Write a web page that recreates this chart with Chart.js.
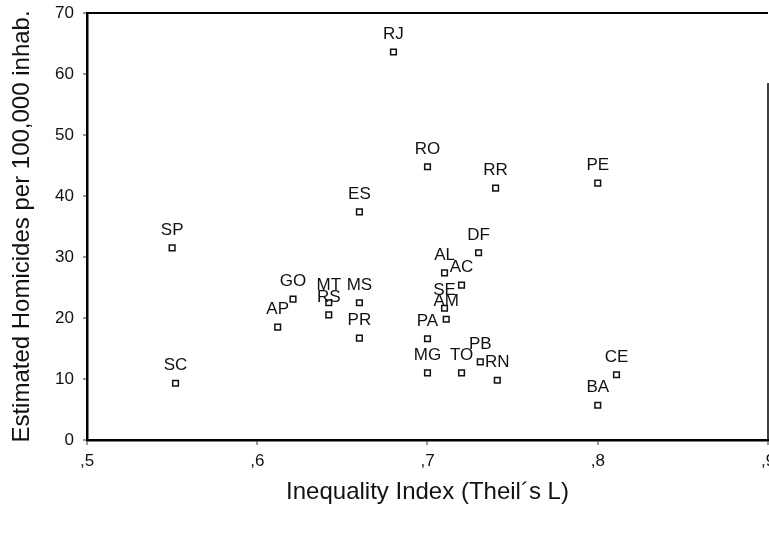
<!DOCTYPE html>
<html>
<head>
<meta charset="utf-8">
<script src="https://cdn.jsdelivr.net/npm/chart.js@4/dist/chart.umd.min.js"></script>
<style>
  html, body { margin: 0; padding: 0; background: #fff; }
  #wrap { width: 769px; height: 533px; }
</style>
</head>
<body>
<div id="wrap"><canvas id="c" width="769" height="533"></canvas></div>
<script>
// States (labels), inequality index and homicide rate
const states = ['RJ', 'RO', 'RR', 'PE', 'ES', 'SP', 'DF', 'AL', 'AC', 'GO', 'MT', 'SE', 'MS', 'RS', 'AM',
  'AP', 'PR', 'PA', 'PB', 'MG', 'TO', 'CE', 'SC', 'RN', 'BA'];
const theilL = [0.68, 0.70, 0.74, 0.80, 0.66, 0.55, 0.73, 0.71, 0.72, 0.621, 0.642, 0.71, 0.66, 0.642, 0.711,
  0.612, 0.66, 0.70, 0.731, 0.70, 0.72, 0.811, 0.552, 0.741, 0.80];
const homicides = [63.6, 44.8, 41.3, 42.1, 37.4, 31.5, 30.7, 27.4, 25.4, 23.1, 22.5, 21.6, 22.5, 20.5, 19.8,
  18.5, 16.7, 16.6, 12.8, 11.0, 11.0, 10.7, 9.3, 9.8, 5.7];

const xTicks = [0.5, 0.6, 0.7, 0.8, 0.9];
const xTickLabels = [',5', ',6', ',7', ',8', ',9'];
const yTicks = [0, 10, 20, 30, 40, 50, 60, 70];

const points = theilL.map((x, i) => ({ x: x, y: homicides[i] }));
const fontFam = '"Liberation Sans", Arial, sans-serif';

// draws the state code above each marker, plus the top/right frame
const labelPlugin = {
  id: 'pointLabels',
  afterDatasetsDraw(chart) {
    const ctx = chart.ctx;
    const meta = chart.getDatasetMeta(0);
    ctx.save();
    ctx.font = '17px ' + fontFam;
    ctx.fillStyle = '#111';
    ctx.textAlign = 'center';
    ctx.textBaseline = 'bottom';
    meta.data.forEach((el, i) => {
      ctx.fillText(states[i], el.x, el.y - 9);
    });
    const a = chart.chartArea;
    ctx.strokeStyle = '#000';
    ctx.lineWidth = 2;
    ctx.beginPath();
    ctx.moveTo(a.left, a.top);
    ctx.lineTo(a.right, a.top);
    ctx.stroke();
    ctx.lineWidth = 1.5;
    ctx.beginPath();
    ctx.moveTo(a.right, a.top + 70);
    ctx.lineTo(a.right, a.bottom);
    ctx.stroke();
    ctx.restore();
  }
};

new Chart(document.getElementById('c'), {
  type: 'scatter',
  data: {
    datasets: [{
      data: points,
      pointStyle: 'rect',
      pointRadius: 4,
      pointHoverRadius: 4,
      borderColor: '#111',
      borderWidth: 1.5,
      backgroundColor: '#fff'
    }]
  },
  options: {
    responsive: false,
    animation: false,
    events: [],
    layout: { autoPadding: false, padding: { top: 13, right: 1, left: 0, bottom: 0 } },
    plugins: { legend: { display: false }, tooltip: { enabled: false } },
    scales: {
      x: {
        type: 'linear',
        min: 0.5,
        max: 0.9,
        afterBuildTicks: s => { s.ticks = xTicks.map(v => ({ value: v })); },
        afterFit: s => { s.height = 93; s.paddingLeft = 0; s.paddingRight = 0; },
        ticks: {
          callback: (v, i) => xTickLabels[i],
          color: '#111',
          font: { family: fontFam, size: 17 },
          padding: 6,
          maxRotation: 0
        },
        grid: { drawOnChartArea: false, tickLength: 5, color: '#999', lineWidth: 2 },
        border: { color: '#000', width: 2.5 },
        title: {
          display: true,
          text: 'Inequality Index (Theil\u00b4s L)',
          color: '#111',
          font: { family: fontFam, size: 24 },
          padding: { top: 4, bottom: 26 }
        }
      },
      y: {
        type: 'linear',
        min: 0,
        max: 70,
        afterBuildTicks: s => { s.ticks = yTicks.map(v => ({ value: v })); },
        afterFit: s => { s.width = 87; s.paddingTop = 0; s.paddingBottom = 0; },
        ticks: {
          color: '#111',
          font: { family: fontFam, size: 17 },
          padding: 9
        },
        grid: { drawOnChartArea: false, tickLength: 4, color: '#999', lineWidth: 2 },
        border: { color: '#000', width: 2.5 },
        title: {
          display: true,
          text: 'Estimated Homicides per 100,000 inhab.',
          color: '#111',
          font: { family: fontFam, size: 24 },
          padding: { top: 8, bottom: 0 }
        }
      }
    }
  },
  plugins: [labelPlugin]
});
</script>
</body>
</html>
